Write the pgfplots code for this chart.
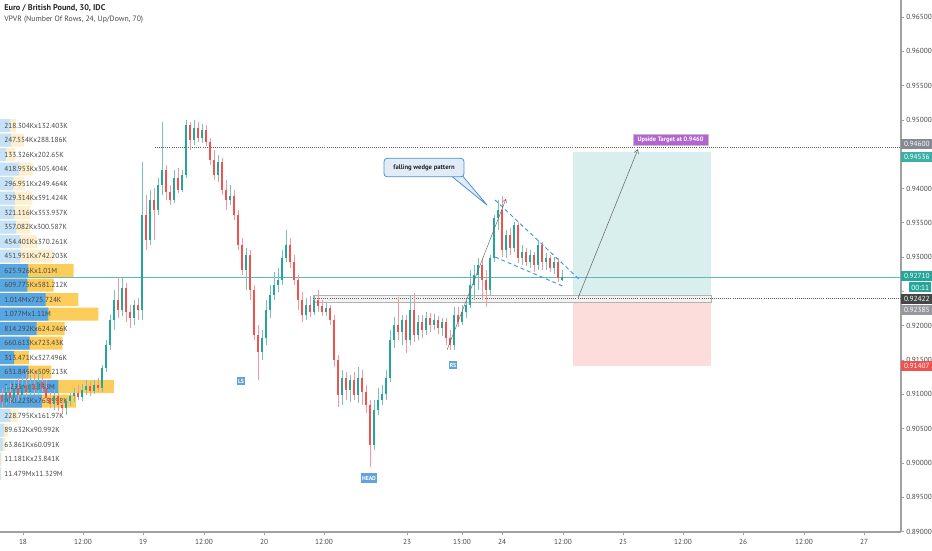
\documentclass[border=0pt]{standalone}
\usepackage{fontspec}
\setmainfont{PT Sans}
\usepackage{pgfplots}
\pgfplotsset{compat=1.18}
\usepackage{pgfplotstable}
\usetikzlibrary{arrows.meta}

\definecolor{upc}{RGB}{38,166,154}
\definecolor{dnc}{RGB}{239,83,80}
\definecolor{vbS}{RGB}{86,166,228}
\definecolor{vbF}{RGB}{198,226,247}
\definecolor{vyS}{RGB}{252,205,90}
\definecolor{vyF}{RGB}{254,240,206}
\definecolor{axg}{RGB}{160,160,160}
\definecolor{labg}{RGB}{70,70,70}
\definecolor{tgtp}{RGB}{180,100,210}
\definecolor{wedgeb}{RGB}{60,150,230}
\definecolor{hsb}{RGB}{100,162,222}
\definecolor{callf}{RGB}{226,236,248}
\definecolor{callb}{RGB}{80,140,210}
\definecolor{lgrey}{RGB}{134,137,147}
\definecolor{lteal}{RGB}{60,175,165}
\definecolor{ldark}{RGB}{70,70,72}
\definecolor{lgrey2}{RGB}{150,152,158}

\pgfplotstableread{
x o h l c
6 0.90888 0.91136 0.90844 0.91034
14 0.90946 0.91209 0.90888 0.91092
22 0.90990 0.91267 0.90946 0.91136
30 0.91034 0.91282 0.90975 0.91150
38 0.91063 0.91325 0.91004 0.91180
54 0.90859 0.91063 0.90771 0.90975
66 0.90801 0.90946 0.90699 0.90902
70 0.90902 0.91019 0.90830 0.90975
74 0.90975 0.91092 0.90888 0.91019
82 0.90961 0.91150 0.90902 0.91063
86 0.91063 0.91209 0.90990 0.91121
94 0.91048 0.91209 0.91004 0.91136
102 0.91092 0.91427 0.91034 0.91384
106 0.91384 0.91792 0.91325 0.91719
110 0.91719 0.92157 0.91646 0.92084
114 0.92084 0.92521 0.91938 0.92375
122 0.92229 0.92710 0.92142 0.92550
134 0.92113 0.92375 0.92011 0.92302
142 0.92229 0.94386 0.92084 0.93614
150 0.93250 0.93978 0.93177 0.93833
158 0.93687 0.94153 0.93614 0.94051
162 0.94051 0.94970 0.93906 0.94270
174 0.93833 0.94270 0.93789 0.94153
182 0.93978 0.94270 0.93949 0.94197
186 0.94197 0.94999 0.94153 0.94926
194 0.94707 0.94999 0.94634 0.94882
202 0.94736 0.94940 0.94663 0.94853
218 0.94197 0.94489 0.94095 0.94386
230 0.93833 0.94051 0.93760 0.93891
246 0.92812 0.93133 0.92521 0.93031
262 0.91617 0.91938 0.91500 0.91821
266 0.91821 0.92375 0.91719 0.92229
270 0.92229 0.92593 0.92113 0.92448
274 0.92448 0.92783 0.92375 0.92593
278 0.92593 0.92841 0.92491 0.92666
282 0.92666 0.93104 0.92593 0.92987
286 0.92987 0.93395 0.92929 0.93177
306 0.92157 0.92404 0.92084 0.92302
314 0.92200 0.92448 0.92157 0.92375
326 0.92200 0.92331 0.92142 0.92259
342 0.90990 0.91354 0.90844 0.91238
350 0.91063 0.91282 0.90888 0.91209
358 0.90990 0.91398 0.90873 0.91238
374 0.90261 0.90917 0.90189 0.90771
378 0.90771 0.91092 0.90699 0.90917
382 0.90917 0.91136 0.90844 0.91004
386 0.91004 0.91354 0.90917 0.91238
390 0.91238 0.91938 0.91180 0.91792
394 0.91792 0.92127 0.91676 0.92011
402 0.91909 0.92157 0.91719 0.92084
410 0.91792 0.92448 0.91719 0.92229
418 0.91865 0.92157 0.91792 0.92055
426 0.91938 0.92200 0.91865 0.92113
434 0.92011 0.92171 0.91938 0.92084
442 0.91967 0.92113 0.91850 0.92055
454 0.91719 0.92273 0.91646 0.92157
462 0.92055 0.92302 0.92011 0.92200
466 0.92200 0.92375 0.92113 0.92302
470 0.92302 0.92812 0.92259 0.92593
474 0.92593 0.92885 0.92375 0.92739
478 0.92739 0.92987 0.92521 0.92885
490 0.92521 0.93031 0.92448 0.92987
494 0.92987 0.93614 0.92929 0.93570
498 0.93570 0.93833 0.93395 0.93687
506 0.93104 0.93395 0.92987 0.93322
514 0.93133 0.93512 0.93075 0.93468
522 0.92987 0.93177 0.92885 0.93075
530 0.92929 0.93104 0.92841 0.93031
538 0.92885 0.93250 0.92812 0.93177
546 0.92929 0.93060 0.92812 0.92987
554 0.92841 0.93002 0.92754 0.92929
562 0.92666 0.92812 0.92652 0.92710
}\upT

\pgfplotstableread{
x o h l c
2 0.90990 0.91092 0.90815 0.90888
10 0.91034 0.91165 0.90859 0.90946
18 0.91092 0.91238 0.90917 0.90990
26 0.91136 0.91325 0.90961 0.91034
34 0.91150 0.91354 0.90990 0.91063
42 0.91180 0.91296 0.91034 0.91092
46 0.91092 0.91209 0.90888 0.90946
50 0.90946 0.91034 0.90801 0.90859
58 0.90975 0.91019 0.90757 0.90844
62 0.90844 0.90917 0.90728 0.90801
78 0.91019 0.91136 0.90917 0.90961
90 0.91121 0.91194 0.90975 0.91048
98 0.91136 0.91238 0.91034 0.91092
118 0.92375 0.92710 0.92113 0.92229
126 0.92550 0.92623 0.92055 0.92200
130 0.92200 0.92302 0.91967 0.92113
138 0.92302 0.92404 0.92084 0.92229
146 0.93614 0.93906 0.93104 0.93250
154 0.93833 0.94008 0.93250 0.93687
166 0.94270 0.94343 0.93833 0.93949
170 0.93949 0.94051 0.93760 0.93833
178 0.94153 0.94299 0.93935 0.93978
190 0.94926 0.94970 0.94561 0.94707
198 0.94882 0.94970 0.94678 0.94736
206 0.94853 0.94926 0.94620 0.94678
210 0.94678 0.94736 0.94343 0.94415
214 0.94415 0.94561 0.94124 0.94197
222 0.94386 0.94445 0.93906 0.93978
226 0.93978 0.94124 0.93687 0.93833
234 0.93891 0.93978 0.93541 0.93614
238 0.93614 0.93687 0.93104 0.93177
242 0.93177 0.93279 0.92739 0.92812
250 0.93031 0.93104 0.92375 0.92521
254 0.92521 0.92593 0.91792 0.91865
258 0.91865 0.92011 0.91209 0.91617
290 0.93177 0.93279 0.92841 0.92929
294 0.92929 0.93031 0.92593 0.92666
298 0.92666 0.92739 0.92229 0.92375
302 0.92375 0.92491 0.92055 0.92157
310 0.92302 0.92433 0.92127 0.92200
318 0.92375 0.92521 0.92200 0.92288
322 0.92288 0.92375 0.92142 0.92200
330 0.92259 0.92302 0.92011 0.92084
334 0.92084 0.92157 0.91398 0.91500
338 0.91500 0.91573 0.90815 0.90990
346 0.91238 0.91325 0.90917 0.91063
354 0.91209 0.91325 0.90917 0.90990
362 0.91238 0.91354 0.90844 0.91034
366 0.91034 0.91136 0.90728 0.90844
370 0.90844 0.90917 0.89941 0.90261
398 0.92011 0.92419 0.91792 0.91909
406 0.92084 0.92157 0.91603 0.91792
414 0.92229 0.92477 0.91763 0.91865
422 0.92055 0.92157 0.91821 0.91938
430 0.92113 0.92186 0.91909 0.92011
438 0.92084 0.92142 0.91879 0.91967
446 0.92055 0.92113 0.91719 0.91821
450 0.91821 0.91938 0.91646 0.91719
458 0.92157 0.92273 0.91982 0.92055
482 0.92885 0.92987 0.92375 0.92666
486 0.92666 0.92812 0.92273 0.92521
502 0.93687 0.93891 0.93002 0.93104
510 0.93322 0.93424 0.93031 0.93133
518 0.93468 0.93512 0.92914 0.92987
526 0.93075 0.93133 0.92870 0.92929
534 0.93031 0.93075 0.92783 0.92885
542 0.93177 0.93220 0.92812 0.92929
550 0.92987 0.93031 0.92783 0.92841
558 0.92929 0.92987 0.92637 0.92696
}\dnT

\pgfplotsset{chartaxis/.style={at={(0,0)},anchor=south west,scale only axis,
  width=675.75pt,height=399pt,ymin=0.88993,ymax=0.96748,clip=false}}

\newcommand{\vl}[2]{\node[anchor=west,inner sep=0pt,text=labg,font=\fontsize{5.5}{6}\selectfont] at (axis cs:0.09,#1) {#2};}
\newcommand{\plab}[4]{\node[anchor=west,fill=#3,text=white,inner sep=0pt,minimum width=23.25pt,minimum height=7.6pt,font=\fontsize{5.5}{6}\selectfont] at (axis cs:#1,#2) {#4};}

\begin{document}
\begin{tikzpicture}
% ---------- volume profile ----------
\begin{axis}[chartaxis, xmin=0, xmax=20.022, hide axis, xbar, bar width=0.0019]
\addplot[fill=vyF, draw=none, bar shift=0pt] coordinates {(0.350707,0.94916) (0.535740,0.94705) (0.335976,0.94493) (0.724357,0.94282) (0.546415,0.94071) (0.720738,0.93859) (0.675053,0.93648) (0.657669,0.93436) (0.824662,0.93225) (1.194154,0.93014) (0.390765,0.90689) (0.180624,0.90477) (0.123952,0.90266) (0.035022,0.90055) (0.022808,0.89843)};
\addplot[fill=vyS, draw=none, bar shift=0pt] coordinates {(1.635926,0.92802) (1.190987,0.92591) (1.739724,0.92380) (2.187,0.92168) (1.438538,0.91957) (1.384043,0.91746) (0.640967,0.91534) (1.141059,0.91323) (2.533,0.91111) (1.694221,0.90900)};
\addplot[fill=vbF, draw=none, bar shift=0pt] coordinates {(0.218304,0.94916) (0.247554,0.94705) (0.133326,0.94493) (0.418953,0.94282) (0.296951,0.94071) (0.329314,0.93859) (0.321116,0.93648) (0.357082,0.93436) (0.454401,0.93225) (0.451951,0.93014) (0.228795,0.90689) (0.089632,0.90477) (0.063861,0.90266) (0.011181,0.90055) (0.011479,0.89843)};
\addplot[fill=vbS, draw=none, bar shift=0pt] coordinates {(0.625926,0.92802) (0.609775,0.92591) (1.014,0.92380) (1.077,0.92168) (0.814292,0.91957) (0.660613,0.91746) (0.313471,0.91534) (0.631846,0.91323) (1.295,0.91111) (0.930223,0.90900)};
\vl{0.94916}{218.304Kx132.403K}
\vl{0.94705}{247.554Kx288.186K}
\vl{0.94493}{133.326Kx202.65K}
\vl{0.94282}{418.953Kx305.404K}
\vl{0.94071}{296.951Kx249.464K}
\vl{0.93859}{329.314Kx391.424K}
\vl{0.93648}{321.116Kx353.937K}
\vl{0.93436}{357.082Kx300.587K}
\vl{0.93225}{454.401Kx370.261K}
\vl{0.93014}{451.951Kx742.203K}
\vl{0.92802}{625.926Kx1.01M}
\vl{0.92591}{609.775Kx581.212K}
\vl{0.92380}{1.014Mx725.724K}
\vl{0.92168}{1.077Mx1.11M}
\vl{0.91957}{814.292Kx624.246K}
\vl{0.91746}{660.613Kx723.43K}
\vl{0.91534}{313.471Kx327.496K}
\vl{0.91323}{631.846Kx509.213K}
\vl{0.91111}{1.295Mx1.238M}
\vl{0.90900}{930.223Kx763.998K}
\vl{0.90689}{228.795Kx161.97K}
\vl{0.90477}{89.632Kx90.992K}
\vl{0.90266}{63.861Kx60.091K}
\vl{0.90055}{11.181Kx23.841K}
\vl{0.89843}{11.479Mx11.329M}
\end{axis}
% ---------- price chart ----------
\begin{axis}[chartaxis, xmin=0, xmax=901,
  axis x line*=bottom, axis y line*=right,
  axis line style={draw=axg, line width=0.8pt},
  xtick={23,83,143,204,264,324,407,462,502,563,623,683,743,804,864},
  xticklabels={18,12:00,19,12:00,20,12:00,23,15:00,24,12:00,25,12:00,26,12:00,27},
  ytick={0.890,0.895,0.900,0.905,0.910,0.915,0.920,0.930,0.935,0.940,0.950,0.955,0.960,0.965},
  extra y ticks={0.925,0.945}, extra y tick labels={},
  extra y tick style={tick style={draw=axg, line width=0.5pt}},
  yticklabel={\pgfmathprintnumber[fixed,fixed zerofill,precision=5,assume math mode=true]{\tick}},
  tick align=outside, major tick length=2.25pt,
  tick style={draw=axg, line width=0.5pt},
  ticklabel style={font=\fontsize{5.5}{7}\selectfont, text=labg},
  yticklabel style={inner xsep=1.5pt},
  ]
% position tool zones
\addplot[fill=upc, fill opacity=0.18, draw=none] coordinates {(573,0.92422) (711,0.92422) (711,0.94536) (573,0.94536)} -- cycle;
\addplot[fill=dnc, fill opacity=0.2, draw=none] coordinates {(573,0.92385) (711,0.92385) (711,0.91413) (573,0.91413)} -- cycle;
% horizontal levels
\addplot[draw=gray!15, fill=gray!10, line width=0.4pt] coordinates {(313,0.92346) (711,0.92346) (711,0.92440) (313,0.92440)} -- cycle;
\addplot[draw=gray!60, line width=0.4pt] coordinates {(313,0.92346) (711,0.92346) (711,0.92440) (313,0.92440) (313,0.92346)};
\addplot[draw=gray!75!black, densely dotted, line width=0.55pt] coordinates {(313,0.92395) (901,0.92395)};
\addplot[draw=upc!75, line width=0.45pt] coordinates {(0,0.92710) (901,0.92710)};
\addplot[draw=gray!75!black, densely dotted, line width=0.55pt] coordinates {(155,0.94600) (901,0.94600)};
% wicks
\addplot[draw=none, mark=none, error bars/.cd, y dir=both, y explicit, error mark=none,
  error bar style={draw=upc!65, line width=0.5pt}]
  table[x=x, y expr={(\thisrow{h}+\thisrow{l})/2}, y error expr={(\thisrow{h}-\thisrow{l})/2}] {\upT};
\addplot[draw=none, mark=none, error bars/.cd, y dir=both, y explicit, error mark=none,
  error bar style={draw=dnc!60, line width=0.5pt}]
  table[x=x, y expr={(\thisrow{h}+\thisrow{l})/2}, y error expr={(\thisrow{h}-\thisrow{l})/2}] {\dnT};
% bodies
\addplot[draw=none, mark=none, error bars/.cd, y dir=both, y explicit, error mark=none,
  error bar style={draw=upc, line width=1.8pt}]
  table[x=x, y expr={(\thisrow{o}+\thisrow{c})/2}, y error expr={(\thisrow{c}-\thisrow{o})/2}] {\upT};
\addplot[draw=none, mark=none, error bars/.cd, y dir=both, y explicit, error mark=none,
  error bar style={draw=dnc, line width=1.8pt}]
  table[x=x, y expr={(\thisrow{o}+\thisrow{c})/2}, y error expr={(\thisrow{o}-\thisrow{c})/2}] {\dnT};
% wedge
\addplot[draw=wedgeb, dash pattern=on 3pt off 2.2pt, line width=0.7pt] coordinates {(495,0.93833) (580,0.92666)};
\addplot[draw=wedgeb, dash pattern=on 3pt off 2.2pt, line width=0.7pt] coordinates {(495,0.93002) (565,0.92564)};
% arrows
\draw[gray!80!black, line width=0.35pt, -{Straight Barb[length=2.5pt,width=3pt]}] (axis cs:447,0.91646) -- (axis cs:506,0.93850);
\draw[gray!80!black, line width=0.4pt, -{Straight Barb[length=3pt,width=3.5pt]}] (axis cs:578,0.92404) -- (axis cs:638,0.94575);
% callout
\filldraw[fill=callf, draw=callb, line width=0.6pt, line join=round] (axis cs:449,0.94210) -- (axis cs:487,0.93760) -- (axis cs:461,0.94210);
\node[draw=callb, fill=callf, line width=0.6pt, rounded corners=2.5pt, minimum width=60pt, minimum height=14pt, inner sep=1pt, font=\bfseries\fontsize{5}{6}\selectfont, text=black!85] at (axis cs:424,0.94306) {falling wedge pattern};
\node[fill=tgtp, draw=gray!50, line width=0.3pt, text=white, inner sep=0pt, minimum width=56pt, minimum height=8.2pt, font=\bfseries\fontsize{4.8}{5}\selectfont] at (axis cs:670.5,0.94715) {Upside Target at 0.9460};
% head and shoulders labels
\node[fill=hsb, text=white, inner sep=0.8pt, minimum height=6.5pt, font=\bfseries\fontsize{4.3}{5}\selectfont] at (axis cs:241,0.91194) {LS};
\node[fill=hsb, text=white, inner sep=0.8pt, minimum height=6.8pt, font=\bfseries\fontsize{4.3}{5}\selectfont] at (axis cs:369,0.89780) {HEAD};
\node[fill=hsb, text=white, inner sep=0.8pt, minimum height=6.5pt, font=\bfseries\fontsize{4.3}{5}\selectfont] at (axis cs:453,0.91427) {RS};
% price labels on the scale
\plab{901}{0.94645}{lgrey}{0.94600}
\plab{901}{0.94455}{lteal}{0.94536}
\plab{901}{0.92725}{upc}{0.92710}
\node[anchor=west,fill=upc,text=white,inner sep=0pt,minimum width=16.5pt,minimum height=7.6pt,font=\fontsize{5.5}{6}\selectfont] at (axis cs:909,0.92558) {00:11};
\plab{901}{0.92392}{ldark}{0.92422}
\plab{901}{0.92225}{lgrey2}{0.92385}
\plab{901}{0.91413}{dnc}{0.91407}
% title
\node[anchor=west, inner sep=0pt, font=\bfseries\fontsize{6.2}{7}\selectfont, text=black!85] at (axis cs:4,0.96631) {Euro / British Pound, 30, IDC};
\node[anchor=west, inner sep=0pt, font=\fontsize{5.8}{7}\selectfont, text=labg] at (axis cs:4,0.96456) {VPVR (Number Of Rows, 24, Up/Down, 70)};
\end{axis}
\pgfresetboundingbox
\useasboundingbox (0,-13.5pt) rectangle (699pt,399pt);
\end{tikzpicture}
\end{document}
